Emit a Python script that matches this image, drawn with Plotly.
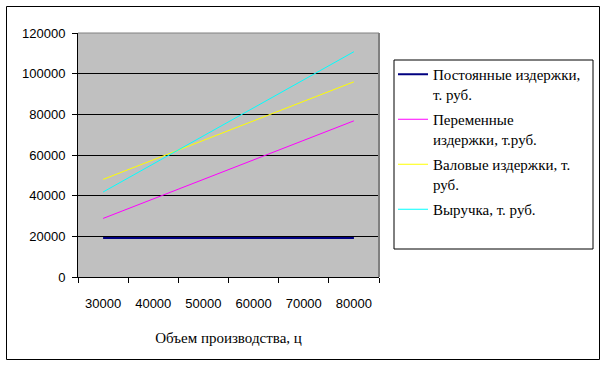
import plotly.graph_objects as go

categories = ["30000", "40000", "50000", "60000", "70000", "80000"]
fixed_costs = [19200, 19200, 19200, 19200, 19200, 19200]
variable_costs = [28800, 38400, 48000, 57600, 67200, 76800]
gross_costs = [48000, 57600, 67200, 76800, 86400, 96000]
revenue = [41800, 55600, 69400, 83200, 97000, 110800]

series = [
    ("Постоянные издержки,<br>т. руб.", fixed_costs, "#000080", 2),
    ("Переменные<br>издержки, т.руб.", variable_costs, "#FF00FF", 1),
    ("Валовые издержки, т.<br>руб.", gross_costs, "#FFFF00", 1),
    ("Выручка, т. руб.", revenue, "#00FFFF", 1),
]

fig = go.Figure()
for i, (name, vals, color, w) in enumerate(series):
    fig.add_trace(go.Scatter(
        x=categories, y=vals, mode="lines", name=name,
        line=dict(color=color, width=w), legendgroup=f"g{i}",
    ))

W, H = 605, 366
L, R, T, B = 78, 379, 33, 277
pw, ph = R - L, B - T

def px(x):
    return (x - L) / pw

def py(y):
    return (B - y) / ph

fig.update_layout(
    width=W, height=H,
    margin=dict(l=L, r=W - R, t=T, b=H - B),
    paper_bgcolor="white",
    plot_bgcolor="#C0C0C0",
    showlegend=True,
    legend=dict(
        x=px(393), y=py(58), xanchor="left", yanchor="top",
        font=dict(family="Liberation Serif", size=15, color="black"),
        bgcolor="rgba(0,0,0,0)", borderwidth=0,
        traceorder="grouped", tracegroupgap=3, valign="top",
        itemwidth=30,
    ),
    xaxis=dict(
        type="category", range=[-0.5, 5.5], tickson="boundaries",
        ticks="outside", ticklen=5, tickcolor="black",
        showgrid=False, showline=True, linecolor="black", linewidth=1,
        tickfont=dict(family="Liberation Sans", size=13, color="black"),
        ticklabelstandoff=14,
        title=dict(text="Объем производства, ц",
                   font=dict(family="Liberation Serif", size=15, color="black"),
                   standoff=22),
        zeroline=False,
    ),
    yaxis=dict(
        range=[0, 120000], dtick=20000, tickformat="d",
        ticks="outside", ticklen=5, tickcolor="black",
        showgrid=True, gridcolor="black", gridwidth=1,
        showline=True, linecolor="black", linewidth=1,
        tickfont=dict(family="Liberation Sans", size=13, color="black"),
        zeroline=False, ticklabelstandoff=4,
    ),
    shapes=[
        dict(type="rect", xref="paper", yref="paper",
             x0=px(6.5), x1=px(599.5), y0=py(359.5), y1=py(6.5),
             line=dict(color="black", width=1), layer="below"),
        dict(type="line", xref="paper", yref="paper",
             x0=1, x1=1, y0=0, y1=1, line=dict(color="#808080", width=2)),
        dict(type="line", xref="paper", yref="paper",
             x0=0, x1=1, y0=1, y1=1, line=dict(color="#808080", width=1)),
        dict(type="rect", xref="paper", yref="paper",
             x0=px(394), x1=px(593), y0=py(249), y1=py(60),
             line=dict(color="black", width=1)),
    ],
)

fig.write_html("out.html")
